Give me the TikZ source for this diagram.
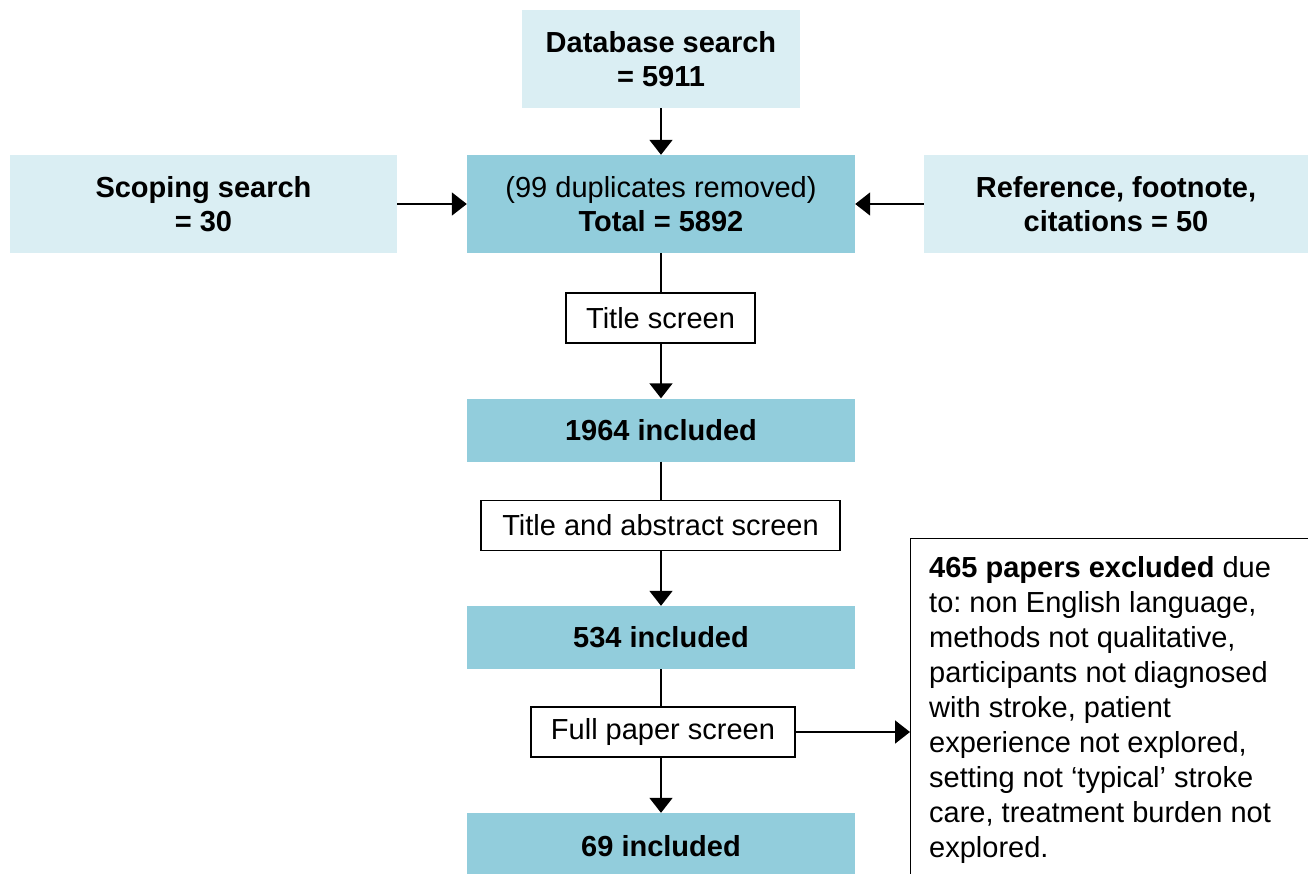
\documentclass[tikz,border=0pt]{standalone}
\usepackage{fontspec}
\setmainfont{Liberation Sans}
\usetikzlibrary{arrows.meta}
\definecolor{lightaqua}{HTML}{DAEEF3}
\definecolor{midaqua}{HTML}{92CDDC}
\frenchspacing
\begin{document}
\begin{tikzpicture}[x=1pt,y=-1pt,
  every node/.style={inner sep=0pt, font=\fontsize{29}{34}\selectfont, align=center},
  lightbox/.style={fill=lightaqua, minimum width=#1, minimum height=98},
  midbox/.style={fill=midaqua, minimum width=388, minimum height=#1},
  screenbox/.style={draw=black, line width=1.3pt, fill=white, minimum width=#1, minimum height=50},
  conn/.style={line width=1.8pt},
  arr/.style={line width=1.8pt, -{Triangle[length=15pt,width=23pt]}}]
\useasboundingbox (0,0) rectangle (1308,873);
\node[lightbox=278] (db) at (661,59) {\bfseries Database search\\\bfseries = 5911};
\node[midbox=98] (tot) at (661,204) {(99 duplicates removed)\\\bfseries Total = 5892};
\node[lightbox=387] (scope) at (203.5,204) {\bfseries Scoping search\\\bfseries = 30};
\node[lightbox=384] (ref) at (1116,204) {\bfseries Reference, footnote,\\\bfseries citations = 50};
\node[screenbox=189] (ts) at (660.5,318) {Title screen};
\node[midbox=63] (n1964) at (661,430) {\bfseries 1964 included};
\node[screenbox=359] (tas) at (660.5,525.5) {Title and abstract screen};
\node[midbox=63] (n534) at (661,637.5) {\bfseries 534 included};
\node[screenbox=264] (fps) at (663,732) {Full paper screen};
\node[midbox=67] (n69) at (661,846.5) {\bfseries 69 included};
\node[draw=black, line width=1.3pt, minimum width=420, minimum height=360, anchor=north west] (excl) at (910,538) {};
\node[anchor=north west, align=left, font=\fontsize{29}{35}\selectfont] (excltext) at (929,556)
  {\textbf{465 papers excluded} due\\to: non English language,\\methods not qualitative,\\participants not diagnosed\\with stroke, patient\\experience not explored,\\setting not ‘typical’ stroke\\care, treatment burden not\\explored.};
\draw[arr] (db.south) -- (tot.north);
\draw[arr] (scope.east) -- (tot.west);
\draw[arr] (ref.west) -- (tot.east);
\draw[conn] (tot.south) -- (tot.south |- ts.north);
\draw[arr] (ts.south -| tot.south) -- (n1964.north);
\draw[conn] (n1964.south) -- (n1964.south |- tas.north);
\draw[arr] (tas.south -| n1964.south) -- (n534.north);
\draw[conn] (n534.south) -- (n534.south |- fps.north);
\draw[arr] (fps.south -| n534.south) -- (n69.north);
\draw[arr] (fps.east) -- (fps.east -| excl.west);
\end{tikzpicture}
\end{document}
